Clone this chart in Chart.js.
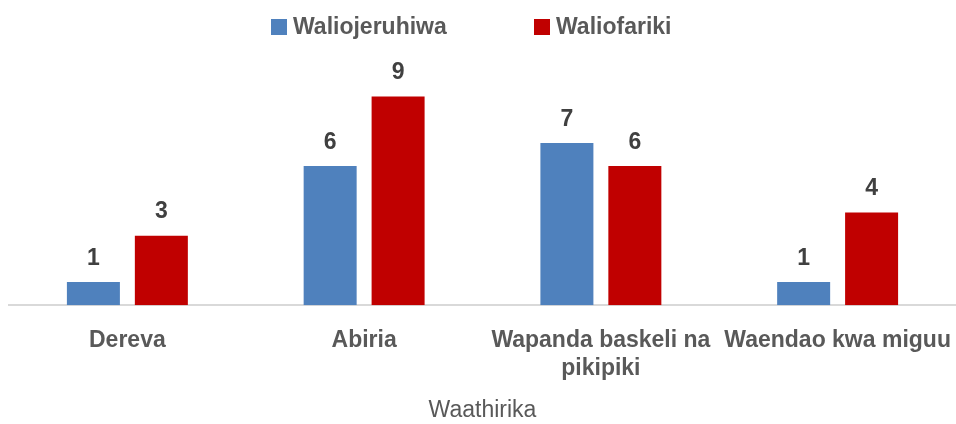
<!DOCTYPE html>
<html>
<head>
<meta charset="utf-8">
<script src="https://cdn.jsdelivr.net/npm/chart.js@4"></script>
<style>
  html, body { margin: 0; padding: 0; background: #fff; }
  #wrap { width: 956px; height: 424px; }
</style>
</head>
<body>
<div id="wrap"><canvas id="myChart"></canvas></div>
<script>
const categories = ['Dereva', 'Abiria', ['Wapanda baskeli na', 'pikipiki'], 'Waendao kwa miguu'];
const injured = [1, 6, 7, 1];
const dead = [3, 9, 6, 4];

const FONT = '"Liberation Sans Narrow", "Arial Narrow", "Liberation Sans", sans-serif';

// simple data labels above each bar
const valueLabels = {
  id: 'valueLabels',
  afterDatasetsDraw(chart) {
    const ctx = chart.ctx;
    ctx.save();
    ctx.font = 'bold 23px ' + FONT;
    ctx.fillStyle = '#404040';
    ctx.textAlign = 'center';
    ctx.textBaseline = 'bottom';
    chart.data.datasets.forEach((ds, i) => {
      chart.getDatasetMeta(i).data.forEach((bar, j) => {
        ctx.fillText(ds.data[j], bar.x, bar.y - 12);
      });
    });
    ctx.restore();
  }
};

// legend on top, items spread wide like the original
const topLegend = {
  id: 'topLegend',
  afterDraw(chart) {
    const ctx = chart.ctx;
    const starts = [271, 534];
    ctx.save();
    ctx.font = 'bold 23px ' + FONT;
    ctx.textBaseline = 'middle';
    ctx.textAlign = 'left';
    chart.data.datasets.forEach((ds, i) => {
      const x = starts[i];
      ctx.fillStyle = ds.backgroundColor;
      ctx.fillRect(x, 19, 16, 16);
      ctx.fillStyle = '#595959';
      ctx.fillText(ds.label, x + 22, 28);
    });
    ctx.restore();
  }
};

const data = {
  labels: categories,
  datasets: [
    {
      label: 'Waliojeruhiwa',
      data: injured,
      backgroundColor: '#4F81BD',
      categoryPercentage: 0.574,
      barPercentage: 0.78
    },
    {
      label: 'Waliofariki',
      data: dead,
      backgroundColor: '#C00000',
      categoryPercentage: 0.574,
      barPercentage: 0.78
    }
  ]
};

const config = {
  type: 'bar',
  data: data,
  options: {
    responsive: true,
    maintainAspectRatio: false,
    animation: false,
    layout: { padding: { left: 9, right: 0, top: 56, bottom: 0 } },
    plugins: {
      legend: { display: false },
      tooltip: { enabled: false }
    },
    scales: {
      x: {
        grid: { display: false },
        border: { color: '#d9d9d9', width: 2 },
        afterFit(scale) {
          scale.paddingLeft = 0;
          scale.paddingRight = 0;
        },
        ticks: {
          color: '#595959',
          padding: 14,
          maxRotation: 0,
          font: { family: FONT, size: 23, weight: 'bold', lineHeight: 1.2 }
        },
        title: {
          display: true,
          text: 'Waathirika',
          color: '#595959',
          padding: { top: 0, bottom: 0 },
          font: { family: FONT, size: 23 }
        }
      },
      y: {
        display: false,
        min: 0,
        max: 10.75
      }
    }
  },
  plugins: [valueLabels, topLegend]
};

const myChart = new Chart(document.getElementById('myChart'), config);
</script>
</body>
</html>
